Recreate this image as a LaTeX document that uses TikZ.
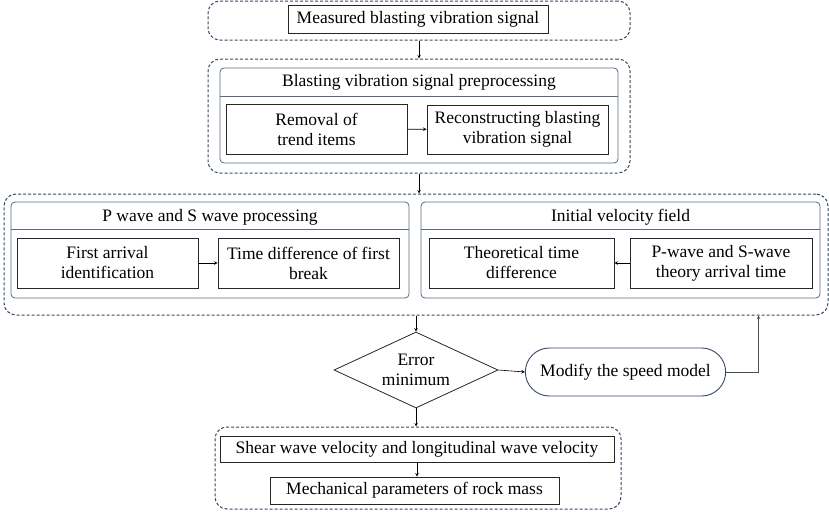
\documentclass[tikz,border=0pt]{standalone}
\usepackage{fontspec}
\setmainfont{Liberation Serif}[Ligatures=TeX]
\usepackage{tikz}
\usetikzlibrary{arrows, positioning, shapes, calc}
\definecolor{slate}{RGB}{52,72,102}
\definecolor{panelgray}{RGB}{88,104,128}
\tikzstyle{group} = [draw=slate, line width=1pt, dash pattern=on 3pt off 2pt, rounded corners=12pt]
\tikzstyle{panel} = [draw=panelgray, line width=0.8pt, rounded corners=4pt]
\tikzstyle{box} = [draw=black!85, line width=0.8pt, align=center, inner sep=1pt]
\tikzstyle{caption} = [align=center]
\tikzstyle{decision} = [diamond, draw=black!85, line width=0.8pt, align=center, aspect=2.16, inner sep=0pt, minimum width=164pt, minimum height=76pt]
\tikzstyle{terminal} = [rounded rectangle, draw=slate, line width=0.9pt, align=center, minimum width=207pt, minimum height=48pt]
\tikzstyle{arrow} = [->, >=stealth, line width=0.6pt]
\begin{document}
\begin{tikzpicture}[x=1pt, y=-1pt, font=\fontsize{17.5}{20}\selectfont]
            \useasboundingbox (0,0) rectangle (829,512);
            % The groups
            \node[group, minimum width=422pt, minimum height=39pt] (g_measure) at (419,20.5) {};
            \node[group, minimum width=422pt, minimum height=114pt] (g_prep) at (419,116) {};
            \node[group, minimum width=824pt, minimum height=121pt] (g_wave) at (416,254.5) {};
            \node[group, minimum width=406pt, minimum height=82pt] (g_result) at (418,468) {};

            % The panels
            \node[panel, minimum width=398pt, minimum height=95pt] (prep) at (419,115.5) {};
            \node[caption] (prep_title) at ($(prep.north)+(0,15)$) {Blasting vibration signal preprocessing};
            \draw[panelgray, line width=0.8pt] ($(prep.north west)+(0,29)$) -- ($(prep.north east)+(0,29)$);
            \node[panel, minimum width=398pt, minimum height=96pt] (pswave) at (210,250) {};
            \node[caption] (pswave_title) at ($(pswave.north)+(0,16)$) {P wave and S wave processing};
            \draw[panelgray, line width=0.8pt] ($(pswave.north west)+(0,28)$) -- ($(pswave.north east)+(0,28)$);
            \node[panel, minimum width=399pt, minimum height=96pt] (velocity) at (620.5,250) {};
            \node[caption] (velocity_title) at ($(velocity.north)+(0,16)$) {Initial velocity field};
            \draw[panelgray, line width=0.8pt] ($(velocity.north west)+(0,28)$) -- ($(velocity.north east)+(0,28)$);

            % The boxes
            \node[box, minimum width=260pt, minimum height=28pt] (measured) at (418,19) {Measured blasting vibration signal};
            \node[box, minimum width=181pt, minimum height=50pt] (removal) at (316.5,129) {Removal of\\trend items};
            \node[box, minimum width=181pt, minimum height=49pt] (rebuild) at (517.5,129.5) {Reconstructing blasting\\vibration signal};
            \node[box, minimum width=181pt, minimum height=50pt] (first_arrival) at (107.5,263) {First arrival\\identification};
            \node[box, minimum width=181pt, minimum height=50pt] (time_diff) at (308.5,263) {Time difference of first\\break};
            \node[box, minimum width=185pt, minimum height=50pt] (theory_diff) at (521.5,263) {Theoretical time\\difference};
            \node[box, minimum width=182pt, minimum height=50pt] (theory_arrival) at (721,263) {P-wave and S-wave\\theory arrival time};
            \node[decision] (error) at (416,370) {Error\\minimum};
            \node[terminal] (modify) at (625.5,372) {Modify the speed model};
            \node[box, minimum width=394pt, minimum height=26pt] (velocities) at (417,449) {Shear wave velocity and longitudinal wave velocity};
            \node[box, minimum width=289pt, minimum height=27pt] (mechanical) at (414.5,490.5) {Mechanical parameters of rock mass};

            % The arrows
            \draw[arrow] (g_measure.south) -- (g_measure.south |- g_prep.north);
            \draw[arrow] (removal) -- (rebuild);
            \draw[arrow] (g_prep.south) -- (g_prep.south |- g_wave.north);
            \draw[arrow] (first_arrival) -- (time_diff);
            \draw[arrow] (theory_arrival) -- (theory_diff);
            \draw[arrow] (error.north |- g_wave.south) -- (error.north);
            \draw[arrow] (error.east) -- (modify.west);
            \draw[arrow, black!70] (modify.east) -| ([xshift=-70pt]g_wave.south east);
            \draw[arrow] (error.south) -- (error.south |- g_result.north);
            \draw[arrow] (velocities.south) -- (velocities.south |- mechanical.north);
        \end{tikzpicture}
\end{document}
